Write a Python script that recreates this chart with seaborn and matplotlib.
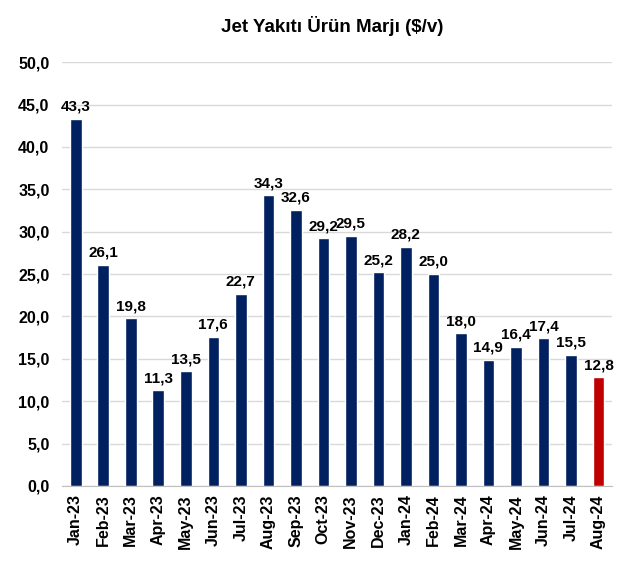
import matplotlib.pyplot as plt
import numpy as np
import pandas as pd
import seaborn as sns

months = ["Jan-23", "Feb-23", "Mar-23", "Apr-23", "May-23", "Jun-23", "Jul-23", "Aug-23",
          "Sep-23", "Oct-23", "Nov-23", "Dec-23", "Jan-24", "Feb-24", "Mar-24", "Apr-24",
          "May-24", "Jun-24", "Jul-24", "Aug-24"]
margins = [43.3, 26.1, 19.8, 11.3, 13.5, 17.6, 22.7, 34.3, 32.6, 29.2, 29.5, 25.2, 28.2,
           25.0, 18.0, 14.9, 16.4, 17.4, 15.5, 12.8]

df = pd.DataFrame({"month": months, "margin": margins})
colors = ["#002060"] * (len(months) - 1) + ["#C00000"]

sns.set_style("white")
plt.rcParams["font.family"] = ["Liberation Sans", "DejaVu Sans"]
plt.rcParams["font.weight"] = "bold"
plt.rcParams["text.color"] = "black"

fig = plt.figure(figsize=(6.26, 5.65), dpi=100)
ax = fig.add_axes([0.099, 0.140, 0.879, 0.750])

sns.barplot(data=df, x="month", y="margin", hue="month", palette=colors, legend=False,
            width=0.42, saturation=1, ax=ax, zorder=3)

for i, v in enumerate(margins):
    ax.text(i, v + 0.6, f"{v:.1f}".replace(".", ","), ha="center", va="bottom",
            fontsize=11, fontweight="bold", color="black")

ax.set_ylim(0, 50)
ax.set_yticks(np.arange(0, 50.1, 5))
ax.set_yticklabels([f"{t:.1f}".replace(".", ",") for t in np.arange(0, 50.1, 5)],
                   fontsize=11.5, fontweight="bold", color="black")
ax.set_xlim(-0.5, len(months) - 0.5)
ax.set_xticks(range(len(months)))
ax.set_xticklabels(months, rotation=90, fontsize=11.5, fontweight="bold", color="black")
ax.set_xticks(np.arange(-0.5, len(months), 1), minor=True)
ax.tick_params(axis="x", which="major", length=0, pad=6)
ax.tick_params(axis="x", which="minor", length=5, color="#BFBFBF", width=1)
ax.tick_params(axis="y", length=0, pad=9)
ax.grid(axis="y", color="#D9D9D9", linewidth=1, zorder=0)
ax.set_xlabel("")
ax.set_ylabel("")
for s in ["top", "right", "left"]:
    ax.spines[s].set_visible(False)
ax.spines["bottom"].set_color("#BFBFBF")
ax.spines["bottom"].set_zorder(4)

fig.suptitle("Jet Yakıtı Ürün Marjı ($/v)", x=0.53, y=0.972, fontsize=13.5, fontweight="bold")

fig.savefig("out.png", dpi=100)
